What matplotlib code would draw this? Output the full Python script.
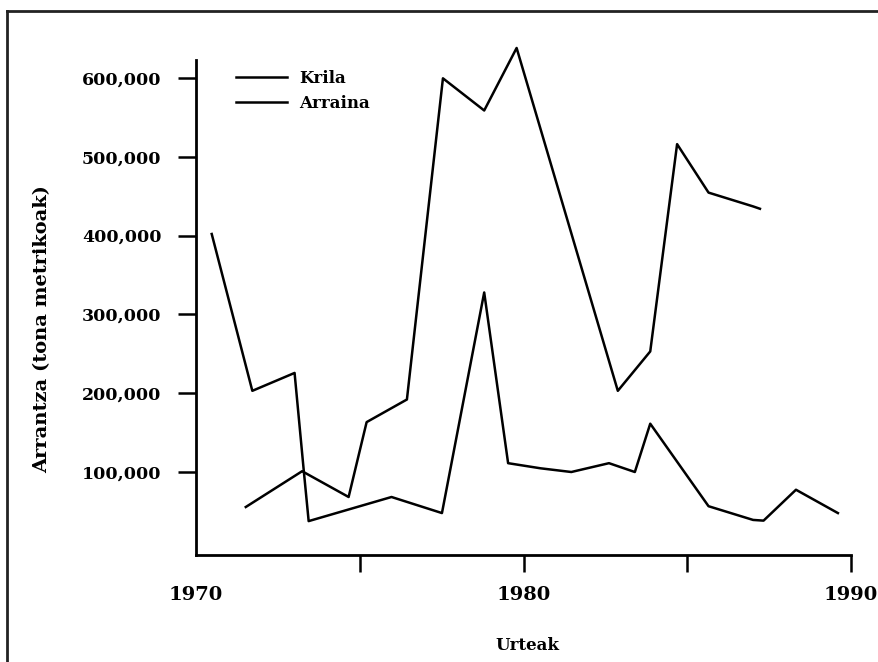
import matplotlib
matplotlib.use('Agg')
import matplotlib.pyplot as plt
from matplotlib.lines import Line2D

plt.rcParams['font.family'] = ['DejaVu Serif']
plt.rcParams['font.weight'] = 'bold'
plt.rcParams['axes.labelweight'] = 'bold'

# Krila (krill) catch, tonnes
krila_years = [1971.52, 1973.24, 1974.66, 1975.21, 1976.44, 1977.54, 1978.80,
               1979.79, 1982.88, 1983.87, 1984.69, 1985.65, 1987.01, 1987.22]
krila_catch = [55600, 101000, 68300, 163300, 192000, 599500, 558700,
               638000, 203000, 253000, 516000, 454500, 437000, 434000]

# Arraina (fish) catch, tonnes
arraina_years = [1970.48, 1971.72, 1973.01, 1973.29, 1973.44, 1975.97, 1977.51,
                 1978.80, 1979.53, 1980.52, 1981.46, 1982.61, 1983.40, 1983.87,
                 1985.65, 1987.01, 1987.33, 1988.32, 1989.60]
arraina_catch = [402000, 203000, 225700, 102000, 37700, 68300, 47900,
                 327800, 111200, 104700, 100000, 111200, 100000, 161300,
                 56600, 39200, 38300, 77500, 47900]

ytick_vals = [100000, 200000, 300000, 400000, 500000, 600000]
ytick_labels = ['100,000', '200,000', '300,000', '400,000', '500,000', '600,000']

W, H = 879, 662
fig = plt.figure(figsize=(W / 100, H / 100), dpi=100)
ax = fig.add_axes([196 / W, 107 / H, 655 / W, (555 - 33) / H])

ax.plot(krila_years, krila_catch, color='black', lw=1.8, label='Krila')
ax.plot(arraina_years, arraina_catch, color='black', lw=1.8, label='Arraina')

ax.set_xlim(1970, 1990)
ax.set_ylim(-5300, 657000)

ax.spines['top'].set_visible(False)
ax.spines['right'].set_visible(False)
ax.spines['left'].set_bounds(-5300, 623000)
for s in ['left', 'bottom']:
    ax.spines[s].set_linewidth(2)

ax.set_yticks(ytick_vals, labels=ytick_labels)
ax.tick_params(axis='y', length=13, width=1.8, pad=12, labelsize=12.5)

ax.set_xticks([1975, 1980, 1985, 1990], labels=['', '1980', '', '1990'])
ax.set_xticks([1970], labels=['1970'], minor=True)
ax.tick_params(axis='x', which='major', length=12, width=1.8, pad=10, labelsize=14)
ax.tick_params(axis='x', which='minor', length=0, pad=22, labelsize=14)

ax.set_xlabel('Urteak', fontsize=12)
ax.xaxis.set_label_coords((527 - 196) / 655, -(637 - 555) / (555 - 33))
ax.set_ylabel('Arrantza (tona metrikoak)', fontsize=14)
ax.yaxis.set_label_coords(-(196 - 51) / 655, (555 - 329) / (555 - 33))

ax.legend(loc='upper left', bbox_to_anchor=(236 / W, 1 - 70 / H),
          bbox_transform=fig.transFigure, frameon=False, fontsize=12,
          handlelength=3.05, handletextpad=0.75, labelspacing=0.45,
          borderpad=0, borderaxespad=0)

# outer frame (top and left edges only)
fig.add_artist(Line2D([7 / W, 7 / W], [0, 1 - 11 / H], color='#222222', lw=2))
fig.add_artist(Line2D([7 / W, 1], [1 - 11 / H, 1 - 11 / H], color='#222222', lw=2))

fig.savefig('out.png', dpi=100)
